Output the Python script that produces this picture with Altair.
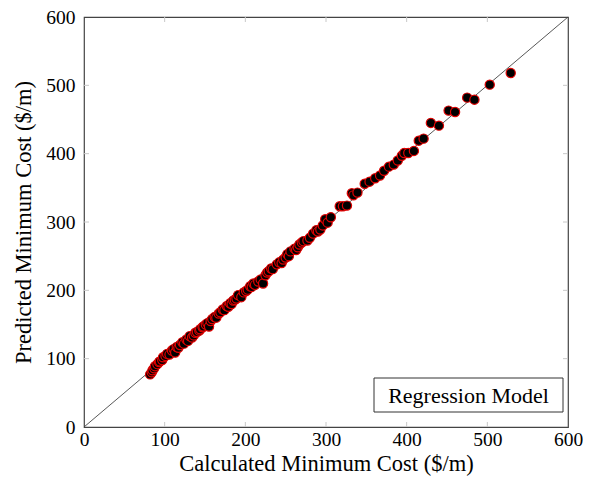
import altair as alt
import pandas as pd

# Data (calculated vs predicted minimum cost, $/m)
calculated = [82, 84, 85, 87, 88, 91, 93, 94, 97, 98, 101, 103, 106, 109, 111, 113, 115, 117, 119, 122,
              124, 127, 129, 131, 134, 136, 138, 140, 143, 144, 147, 148, 151, 153, 155, 157, 159, 162, 164, 167,
              169, 172, 174, 177, 179, 181, 183, 185, 187, 189, 191, 195, 198, 201, 203, 206, 208, 210, 212, 216,
              219, 222, 225, 227, 229, 232, 234, 239, 242, 245, 247, 250, 252, 254, 256, 261, 263, 265, 267, 270,
              272, 277, 280, 284, 288, 290, 293, 296, 299, 302, 306, 317, 321, 326, 332, 334, 339, 348, 354, 361,
              367, 372, 378, 384, 389, 394, 397, 402, 409, 415, 421, 430, 440, 452, 460, 475, 484, 503, 529]
predicted = [77, 80, 83, 86, 89, 92, 95, 96, 98, 102, 104, 107, 106, 112, 114, 109, 117, 116, 120, 124,
             122, 128, 126, 133, 131, 134, 138, 139, 141, 143, 146, 147, 150, 152, 147, 155, 158, 161, 160, 166,
             168, 172, 171, 177, 176, 181, 180, 185, 186, 188, 193, 190, 197, 199, 201, 206, 205, 210, 208, 213,
             216, 210, 222, 226, 228, 232, 231, 238, 241, 240, 245, 248, 253, 250, 257, 261, 259, 263, 267, 270,
             272, 273, 277, 283, 288, 286, 289, 295, 304, 299, 307, 323, 323, 324, 342, 339, 343, 356, 359, 364,
             368, 375, 381, 384, 390, 397, 401, 401, 404, 419, 422, 445, 441, 463, 461, 482, 479, 501, 518]
diag = [0, 600]
ticks = [100, 200, 300, 400, 500]
tick_values = [0, 100, 200, 300, 400, 500, 600]

W, H = 484, 410
FONT = "Liberation Serif"

pts = pd.DataFrame({"calc": calculated, "pred": predicted})
line_df = pd.DataFrame({"calc": diag, "pred": diag})
tick_df = pd.DataFrame({"v": ticks})

xs = alt.Scale(domain=[0, 600], nice=False)
ys = alt.Scale(domain=[0, 600], nice=False)

x_axis = alt.Axis(values=tick_values, title="Calculated Minimum Cost ($/m)", grid=False,
                  ticks=False, domain=False, labelPadding=3, titlePadding=4,
                  labelFlush=False, labelOverlap=False)
y_axis = alt.Axis(values=tick_values, title="Predicted Minimum Cost ($/m)", grid=False,
                  ticks=False, domain=False, labelPadding=9, titlePadding=10,
                  labelFlush=False, labelOverlap=False)

base_pts = alt.Chart(pts).mark_point(
    filled=True, fill="black", stroke="#e00000", strokeWidth=1.2, size=85, opacity=1, fillOpacity=1
).encode(
    x=alt.X("calc:Q", scale=xs, axis=x_axis),
    y=alt.Y("pred:Q", scale=ys, axis=y_axis),
)

diag_line = alt.Chart(line_df).mark_line(color="#444444", strokeWidth=0.9).encode(
    x=alt.X("calc:Q", scale=xs), y=alt.Y("pred:Q", scale=ys)
)

tick_col = "#c8c8c8"
tb = alt.Chart(tick_df).mark_rule(color=tick_col, strokeWidth=1).encode(
    x=alt.X("v:Q", scale=xs), y=alt.value(H), y2=alt.value(H - 5))
tt = alt.Chart(tick_df).mark_rule(color=tick_col, strokeWidth=1).encode(
    x=alt.X("v:Q", scale=xs), y=alt.value(0), y2=alt.value(5))
tl = alt.Chart(tick_df).mark_rule(color=tick_col, strokeWidth=1).encode(
    y=alt.Y("v:Q", scale=ys), x=alt.value(0), x2=alt.value(5))
tr = alt.Chart(tick_df).mark_rule(color=tick_col, strokeWidth=1).encode(
    y=alt.Y("v:Q", scale=ys), x=alt.value(W), x2=alt.value(W - 5))

legend_box = alt.Chart(pd.DataFrame({"label": ["Regression Model"]})).mark_rect(
    fill="white", stroke="#333333", strokeWidth=1
).encode(x=alt.value(W - 194), x2=alt.value(W - 5), y=alt.value(H - 49), y2=alt.value(H - 15))

legend_text = alt.Chart(pd.DataFrame({"label": ["Regression Model"]})).mark_text(
    font=FONT, fontSize=22, color="black", align="center", baseline="middle"
).encode(text="label:N", x=alt.value(W - 99.5), y=alt.value(H - 31.5))

chart = alt.layer(
    tb, tt, tl, tr, diag_line, base_pts, legend_box, legend_text
).properties(
    width=W, height=H,
    autosize=alt.AutoSizeParams(type="none"),
    padding={"left": 76, "top": 9, "right": 15, "bottom": 50},
).configure_view(
    stroke="#444444", strokeWidth=1.2
).configure_axis(
    labelFont=FONT, labelFontSize=19.5, labelColor="black",
    titleFont=FONT, titleFontSize=22.5, titleColor="black", titleFontWeight="normal"
)

chart.save("out.html", embed_options={"renderer": "svg", "actions": False})
